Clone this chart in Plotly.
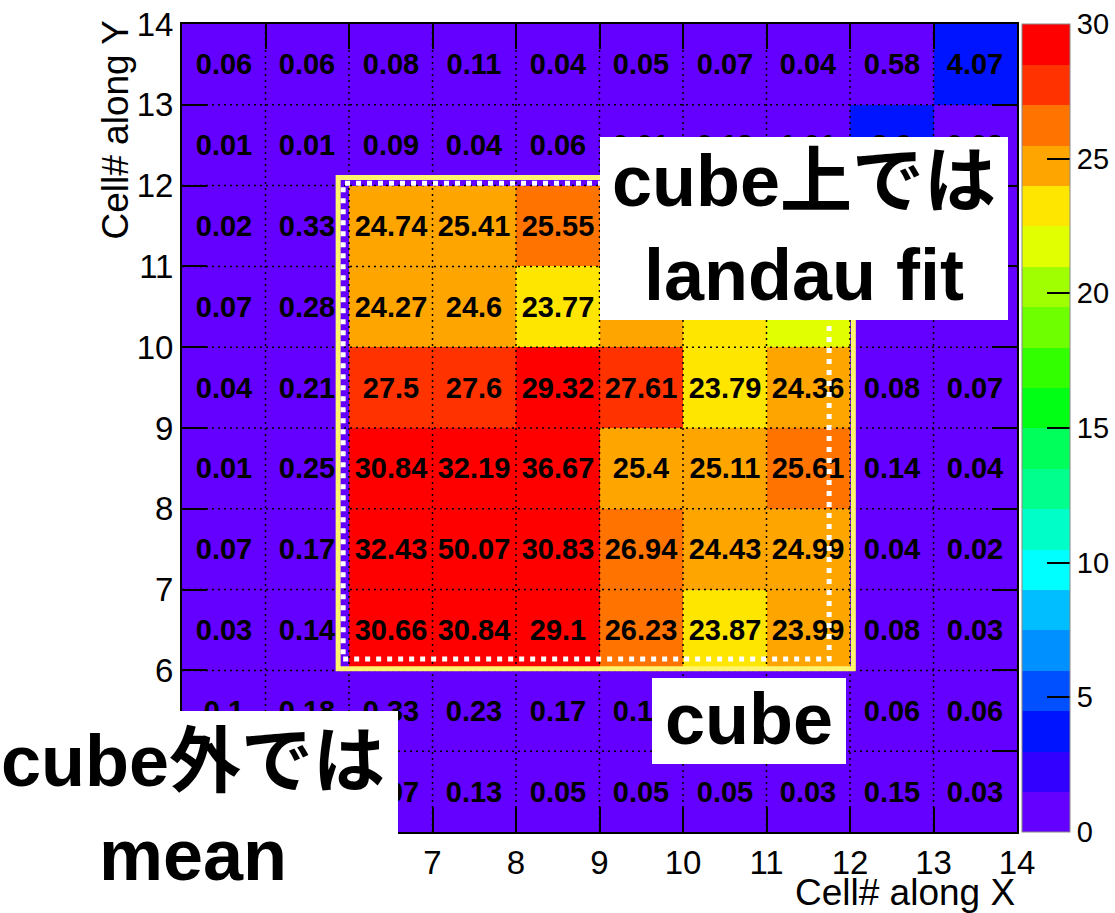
import plotly.graph_objects as go

# ---------------- data ----------------
x_centers = [4.5, 5.5, 6.5, 7.5, 8.5, 9.5, 10.5, 11.5, 12.5, 13.5]
y_centers = [4.5, 5.5, 6.5, 7.5, 8.5, 9.5, 10.5, 11.5, 12.5, 13.5]

# rows listed from top (y = 13.5) to bottom (y = 4.5)
row_13 = [0.06, 0.06, 0.08, 0.11, 0.04, 0.05, 0.07, 0.04, 0.58, 4.07]
row_12 = [0.01, 0.01, 0.09, 0.04, 0.06, 0.01, 0.12, 1.01, 3.9, 0.02]
row_11 = [0.02, 0.33, 24.74, 25.41, 25.55, 25.2, 24.1, 23.5, 0.05, 0.03]
row_10 = [0.07, 0.28, 24.27, 24.6, 23.77, 24.9, 23.4, 22.1, 0.06, 0.05]
row_9 = [0.04, 0.21, 27.5, 27.6, 29.32, 27.61, 23.79, 24.36, 0.08, 0.07]
row_8 = [0.01, 0.25, 30.84, 32.19, 36.67, 25.4, 25.11, 25.61, 0.14, 0.04]
row_7 = [0.07, 0.17, 32.43, 50.07, 30.83, 26.94, 24.43, 24.99, 0.04, 0.02]
row_6 = [0.03, 0.14, 30.66, 30.84, 29.1, 26.23, 23.87, 23.99, 0.08, 0.03]
row_5 = [0.1, 0.18, 0.33, 0.23, 0.17, 0.14, 0.09, 0.07, 0.06, 0.06]
row_4 = [0.05, 0.06, 0.07, 0.13, 0.05, 0.05, 0.05, 0.03, 0.15, 0.03]

rows_top_down = [row_13, row_12, row_11, row_10, row_9, row_8, row_7, row_6, row_5, row_4]
z = rows_top_down[::-1]
z_text = [[f"{v:g}" for v in r] for r in z]

x_ticks = [4, 5, 6, 7, 8, 9, 10, 11, 12, 13, 14]
y_ticks = [4, 5, 6, 7, 8, 9, 10, 11, 12, 13, 14]
grid_vals = [5, 6, 7, 8, 9, 10, 11, 12, 13]
cbar_ticks = [0, 5, 10, 15, 20, 25, 30]
z_min, z_max = 0, 30

# 20-level palette, bottom to top
band_colors = [
    "#6400FF", "#3200FF", "#0014FF", "#0050FF", "#0090FF",
    "#00BEFF", "#00FFFF", "#00FFC8", "#00FF8C", "#00FF5A",
    "#00FF14", "#32FF00", "#6EFF00", "#A0FF00", "#E1FF00",
    "#FFE600", "#FFA500", "#FF7300", "#FF3200", "#FF0000",
]

# cube outlines (data coords)
cube_outer = (5.87, 6.02, 12.04, 12.10)
cube_inner = (5.93, 6.14, 11.75, 12.03)

# ---------------- build ----------------
n = len(band_colors)
step = (z_max - z_min) / n
colorscale = []
for k, c in enumerate(band_colors):
    lo = 0.0 if k == 0 else (k * step - 0.01 * step) / (z_max - z_min)
    hi = 1.0 if k == n - 1 else ((k + 1) * step - 0.01 * step) / (z_max - z_min)
    colorscale.append([lo, c])
    colorscale.append([hi, c])

L, R, T, B = 182, 1017, 24, 832
W, H = 1115, 913


def px(xp):
    return (xp - L) / (R - L)


def py(yp):
    return (B - yp) / (B - T)


fig = go.Figure()
fig.add_trace(go.Heatmap(
    x=x_centers, y=y_centers, z=z,
    text=z_text, texttemplate="%{text}",
    textfont=dict(family="Liberation Sans, Arial, sans-serif", size=29,
                  color="black", weight="bold"),
    zmin=z_min, zmax=z_max, colorscale=colorscale,
    colorbar=dict(
        x=px(1022), xanchor="left", xref="paper",
        y=0, yanchor="bottom", len=1, lenmode="fraction",
        thickness=48, thicknessmode="pixels",
        outlinewidth=1, outlinecolor="#888888",
        tickvals=cbar_ticks, ticks="inside", ticklen=23,
        tickcolor="black", tickwidth=1.5,
        tickfont=dict(family="Liberation Sans, Arial, sans-serif", size=29, color="black"),
        xpad=0, ypad=0,
    ),
    hoverinfo="skip",
))

shapes = []
for v in grid_vals:
    shapes.append(dict(type="line", xref="x", yref="y", x0=v, x1=v, y0=y_ticks[0], y1=y_ticks[-1],
                       line=dict(color="black", width=1.5, dash="2px,4px"), layer="above"))
    shapes.append(dict(type="line", xref="x", yref="y", y0=v, y1=v, x0=x_ticks[0], x1=x_ticks[-1],
                       line=dict(color="black", width=1.5, dash="2px,4px"), layer="above"))

shapes.append(dict(type="rect", xref="x", yref="y",
                   x0=cube_outer[0], y0=cube_outer[1], x1=cube_outer[2], y1=cube_outer[3],
                   line=dict(color="#FFF46E", width=5), fillcolor="rgba(0,0,0,0)", layer="above"))
shapes.append(dict(type="rect", xref="x", yref="y",
                   x0=cube_inner[0], y0=cube_inner[1], x1=cube_inner[2], y1=cube_inner[3],
                   line=dict(color="white", width=5, dash="5px,6px"), fillcolor="rgba(0,0,0,0)",
                   layer="above"))

# white label boxes
for (a, b, c, d) in [(600, 137, 1008, 320), (652, 678, 846, 764), (0, 711, 398, 913)]:
    shapes.append(dict(type="rect", xref="paper", yref="paper",
                       x0=px(a), x1=px(c), y0=py(d), y1=py(b),
                       line=dict(width=0), fillcolor="white", layer="above"))

big_font = dict(family="Liberation Sans, Noto Sans CJK JP, sans-serif", size=72,
                color="black", weight="bold")
title_font = dict(family="Liberation Sans, Arial, sans-serif", size=37, color="black")
annotations = [
    dict(text="cube上では<br>landau fit", x=px(804), y=py(228), xref="paper", yref="paper",
         xanchor="center", yanchor="middle", showarrow=False, font=big_font),
    dict(text="cube", x=px(749), y=py(719), xref="paper", yref="paper",
         xanchor="center", yanchor="middle", showarrow=False, font=big_font),
    dict(text="cube外では<br>mean", x=px(193), y=py(808), xref="paper", yref="paper",
         xanchor="center", yanchor="middle", showarrow=False, font=big_font),
    dict(text="Cell# along X", x=px(1017), y=py(892), xref="paper", yref="paper",
         xanchor="right", yanchor="middle", showarrow=False, font=title_font),
    dict(text="Cell# along Y", x=px(115), y=py(19), xref="paper", yref="paper",
         xanchor="center", yanchor="top", textangle=-90, showarrow=False, font=title_font),
]

axis_common = dict(
    showgrid=False, zeroline=False, showline=True, linecolor="black", linewidth=2,
    mirror="ticks", ticks="inside", ticklen=25, tickwidth=1.5, tickcolor="black",
    tickfont=dict(family="Liberation Sans, Arial, sans-serif", size=33, color="black"),
)

fig.update_layout(
    width=W, height=H,
    margin=dict(l=L, r=W - R, t=T, b=H - B, autoexpand=False),
    paper_bgcolor="white", plot_bgcolor="white",
    xaxis=dict(range=[x_ticks[0], x_ticks[-1]], tickvals=x_ticks, **axis_common),
    yaxis=dict(range=[y_ticks[0], y_ticks[-1]], tickvals=y_ticks, **axis_common),
    shapes=shapes, annotations=annotations,
    showlegend=False,
)

fig.write_html("out.html")
